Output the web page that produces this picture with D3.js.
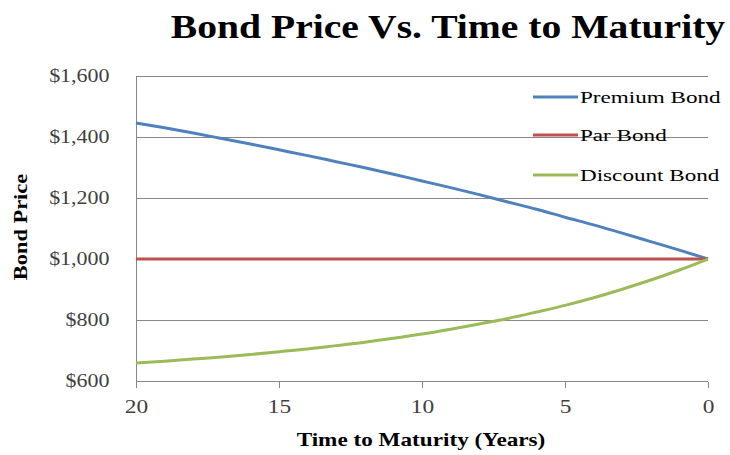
<!DOCTYPE html>
<html lang="en">
<head>
<meta charset="utf-8">
<title>Bond Price Vs. Time to Maturity</title>
<script src="https://d3js.org/d3.v7.min.js"></script>
<style>
  body { margin: 0; background: #fff; }
  svg text { font-family: "Liberation Serif", "DejaVu Serif", serif; }
  .grid line { stroke: #878787; shape-rendering: crispEdges; }
  .axis path, .axis line { stroke: #878787; shape-rendering: crispEdges; }
  .axis text { fill: #404040; font-size: 18px; }
</style>
</head>
<body>
<div id="chart"></div>
<script>
// years to maturity, read left to right (20 down to 0)
var years = [20,19,18,17,16,15,14,13,12,11,10,9,8,7,6,5,4,3,2,1,0];
var premium = [1446,1430,1413,1395,1377,1358,1339,1319,1299,1278,1256,1234,1211,1187,1163,1137,1112,1085,1057,1029,1000];
var par = [1000,1000,1000,1000,1000,1000,1000,1000,1000,1000,1000,1000,1000,1000,1000,1000,1000,1000,1000,1000,1000];
var discount = [659,665,672,679,687,696,705,716,727,740,754,770,787,805,826,848,873,901,931,964,1000];
var seriesNames = ["Premium Bond", "Par Bond", "Discount Bond"];
var seriesColors = ["#4F81BD", "#C0504D", "#9BBB59"];
var yTicks = [600,800,1000,1200,1400,1600];
var xTicks = [20,15,10,5,0];

var width = 730, height = 455;
var margin = {top: 76, right: 22, bottom: 74, left: 136};

var svg = d3.select("#chart").append("svg")
    .attr("width", width)
    .attr("height", height);

// the original font (Garamond) is wider than Liberation Serif, stretch text a bit
function widen(sel, k) {
  sel.each(function() {
    var w = this.getComputedTextLength();
    d3.select(this).attr("textLength", w * k).attr("lengthAdjust", "spacingAndGlyphs");
  });
}

var x = d3.scaleLinear().domain([20, 0]).range([margin.left, width - margin.right]);
var y = d3.scaleLinear().domain([600, 1600]).range([height - margin.bottom, margin.top]);

// gridlines
svg.append("g").attr("class", "grid")
  .selectAll("line")
  .data(yTicks)
  .enter().append("line")
    .attr("x1", x(20)).attr("x2", x(0))
    .attr("y1", function(d){ return Math.round(y(d)) + 0.5; })
    .attr("y2", function(d){ return Math.round(y(d)) + 0.5; });

// x axis
var xAxis = svg.append("g").attr("class", "axis")
  .attr("transform", "translate(0," + (Math.round(y(600)) + 0.5) + ")")
  .call(d3.axisBottom(x).tickValues(xTicks).tickSize(6).tickSizeOuter(0).tickPadding(13))
  .call(function(g){ g.select(".domain").remove(); });

// y axis
var fmt = d3.format("$,");
var yAxis = svg.append("g").attr("class", "axis")
  .attr("transform", "translate(" + (Math.round(x(20)) + 0.5) + ",0)")
  .call(d3.axisLeft(y).tickValues(yTicks).tickSize(0).tickPadding(27).tickFormat(function(d){ return fmt(d); }))
  .call(function(g){ g.select(".domain").attr("d", "M0," + y(1600) + "V" + (y(600) + 6)); });

svg.selectAll(".axis").attr("font-family", null);
widen(xAxis.selectAll("text"), 1.3);
widen(yAxis.selectAll("text"), 1.22);

// lines
var allSeries = [premium, par, discount];
var line = d3.line()
  .x(function(d, i){ return x(years[i]); })
  .y(function(d){ return y(d); })
  .curve(d3.curveMonotoneX);

svg.append("g").selectAll("path")
  .data(allSeries)
  .enter().append("path")
    .attr("d", function(d){ return line(d); })
    .attr("fill", "none")
    .attr("stroke", function(d, i){ return seriesColors[i]; })
    .attr("stroke-width", 3);

// legend
var legendY = [97, 135, 175];
var legend = svg.append("g").selectAll("g")
  .data(seriesNames)
  .enter().append("g")
    .attr("transform", function(d, i){ return "translate(533," + legendY[i] + ")"; });
legend.append("line")
  .attr("x1", 0).attr("x2", 45)
  .attr("stroke", function(d, i){ return seriesColors[i]; })
  .attr("stroke-width", 3);
var legendText = legend.append("text")
  .attr("x", 47).attr("y", 6)
  .attr("font-size", 17)
  .attr("fill", "#000")
  .text(function(d){ return d; });
widen(legendText, 1.36);

// titles
var title = svg.append("text")
  .attr("x", 448).attr("y", 38)
  .attr("text-anchor", "middle")
  .attr("font-size", 33)
  .attr("font-weight", "bold")
  .text("Bond Price Vs. Time to Maturity");
widen(title, 1.2);

var xTitle = svg.append("text")
  .attr("x", 421).attr("y", 446)
  .attr("text-anchor", "middle")
  .attr("font-size", 19)
  .attr("font-weight", "bold")
  .text("Time to Maturity (Years)");
widen(xTitle, 1.22);

var yTitle = svg.append("text")
  .attr("transform", "translate(27," + 227 + ") rotate(-90)")
  .attr("text-anchor", "middle")
  .attr("font-size", 19)
  .attr("font-weight", "bold")
  .text("Bond Price");
widen(yTitle, 1.18);
</script>
</body>
</html>
